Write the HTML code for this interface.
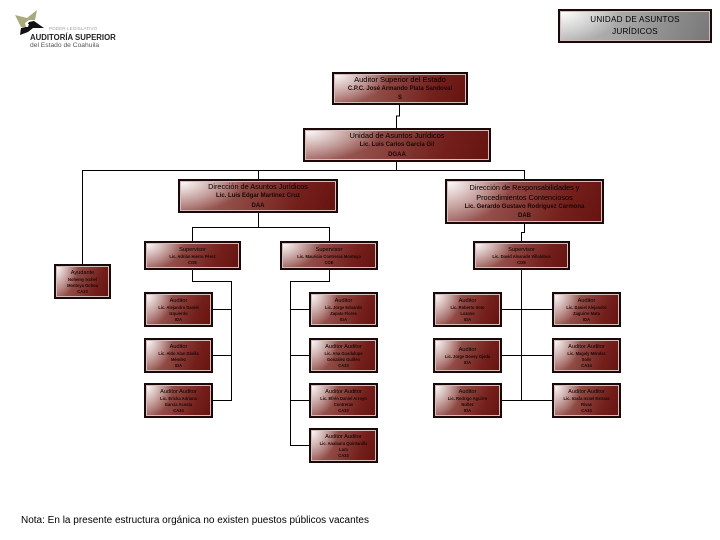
<!DOCTYPE html>
<html lang="es"><head><meta charset="utf-8"><title>Unidad de Asuntos Jurídicos</title>
<style>
html,body{margin:0;padding:0;background:#fff}
#p{position:relative;width:720px;height:540px;overflow:hidden;background:#fff;font-family:"Liberation Sans",sans-serif;color:#000}
svg{position:absolute;left:0;top:0}
.b{position:absolute;box-sizing:border-box;border:2px solid #1b0808;background:radial-gradient(ellipse 42% 105% at 0 0,rgba(255,255,255,1) 0%,rgba(255,255,255,.6) 40%,rgba(255,255,255,0) 100%),linear-gradient(112deg,#a8706c 0%,#8b423d 45%,#741f1b 75%,#661310 100%);box-shadow:inset 0 0 0 1px #d2bfbd;display:flex;flex-direction:column;align-items:center;justify-content:center;text-align:center;overflow:hidden}
.b div{white-space:nowrap}
.h{font-size:7.5px;line-height:10px;padding-top:1px}
.d .h{font-size:7.3px}
.s{font-size:6px;line-height:9.2px;font-weight:bold;color:#1a0505}
.a .h{font-size:5.6px;line-height:8px;padding-top:0}
.a .s{font-size:4.1px;line-height:6px;font-weight:bold}
.u{left:144px;width:69px;height:35px}
.c2{left:309px;width:69px;height:35px}
.c3{left:433px;width:69px;height:35px}
.c4{left:552px;width:69px;height:35px}
.t{position:absolute}
</style></head><body><div id="p">

<svg width="720" height="540" viewBox="0 0 720 540" shape-rendering="crispEdges" fill="none" stroke="#000" stroke-width="1">
<polyline points="399.5,105 399.5,116 396.5,116 396.5,128"/>
<polyline points="396.5,162 396.5,170"/>
<polyline points="82.5,264 82.5,170.5 524.5,170.5 524.5,179"/>
<polyline points="258.5,170 258.5,179"/>
<polyline points="258.5,213 258.5,227"/>
<polyline points="192.5,241 192.5,227.5 329.5,227.5 329.5,241"/>
<polyline points="192.5,270 192.5,281.5 231.5,281.5 231.5,400.5 213,400.5"/>
<polyline points="213,309.5 231,309.5"/>
<polyline points="213,355.5 231,355.5"/>
<polyline points="329.5,270 329.5,281.5 290.5,281.5 290.5,445.5 309,445.5"/>
<polyline points="290,309.5 309,309.5"/>
<polyline points="290,355.5 309,355.5"/>
<polyline points="290,400.5 309,400.5"/>
<polyline points="524.5,224 524.5,232.5 521.5,232.5 521.5,241"/>
<polyline points="521.5,270 521.5,400"/>
<polyline points="502,309.5 552,309.5"/>
<polyline points="502,355.5 552,355.5"/>
<polyline points="502,400.5 552,400.5"/>
</svg>

<svg width="130" height="60" viewBox="0 0 130 60" style="left:0;top:0">
<path d="M15 15 L27 18 L37 10 L35 20 L29 20 L25 23 L26 27 L21 27 Z" fill="#aaa97c"/>
<path d="M20 35 L21 28 L26 27 L29 22 L34 21 L44 28 L33 28 L28 32 Z" fill="#111"/>
<path d="M26 24 L29 24 L28 27 L26 27 Z" fill="#fff"/>
</svg>
<div class="t" style="left:49px;top:26px;font-size:4.7px;line-height:6px;color:#a5a59c;white-space:nowrap">PODER LEGISLATIVO</div>
<div class="t" style="left:30px;top:33px;font-size:7.8px;line-height:9px;font-weight:bold;color:#222;white-space:nowrap">AUDITORÍA SUPERIOR</div>
<div class="t" style="left:30px;top:41px;font-size:6.7px;line-height:9px;color:#555;white-space:nowrap">del Estado de Coahuila</div>

<div class="b" style="left:558px;top:9px;width:154px;height:34px;background:radial-gradient(ellipse 42% 105% at 0 0,rgba(255,255,255,1) 0%,rgba(255,255,255,.6) 40%,rgba(255,255,255,0) 100%),linear-gradient(112deg,#bdbdbd 0%,#a4a4a4 45%,#8a8a8a 75%,#777 100%)"><div style="font-size:8.1px;line-height:12.5px;letter-spacing:.25px">UNIDAD DE ASUNTOS</div><div style="font-size:8.1px;line-height:12.5px;letter-spacing:.25px">JURÍDICOS</div></div>

<div class="b" style="left:332px;top:72px;width:136px;height:33px"><div class="h">Auditor Superior del Estado</div><div class="s">C.P.C. José Armando Plata Sandoval</div><div class="s">S</div></div>
<div class="b" style="left:303px;top:128px;width:188px;height:34px"><div class="h">Unidad de Asuntos Jurídicos</div><div class="s">Lic. Luis Carlos García Gil</div><div class="s">DGAA</div></div>
<div class="b d" style="left:178px;top:179px;width:160px;height:34px"><div class="h">Dirección de Asuntos Jurídicos</div><div class="s">Lic. Luis Edgar Martínez Cruz</div><div class="s">DAA</div></div>
<div class="b d" style="left:445px;top:179px;width:159px;height:45px"><div class="h" style="line-height:10px">Dirección de Responsabilidades y</div><div class="h" style="line-height:10px;padding-top:0">Procedimientos Contenciosos</div><div class="s">Lic. Gerardo Gustavo Rodríguez Carmona</div><div class="s">DAB</div></div>

<div class="b a" style="left:144px;top:241px;width:97px;height:29px"><div class="h">Supervisor</div><div class="s">Lic. Adrián Hierro Pérez</div><div class="s">COE</div></div>
<div class="b a" style="left:280px;top:241px;width:98px;height:29px"><div class="h">Supervisor</div><div class="s">Lic. Mauricio Contreras Montoya</div><div class="s">COE</div></div>
<div class="b a" style="left:473px;top:241px;width:97px;height:29px"><div class="h">Supervisor</div><div class="s">Lic. David Alvarado Villalobos</div><div class="s">COE</div></div>
<div class="b a" style="left:54px;top:264px;width:57px;height:35px"><div class="h">Ayudante</div><div class="s">Nohemy Ixchel</div><div class="s">Montoya Ochoa</div><div class="s">CA33</div></div>

<div class="b a u" style="top:292px"><div class="h">Auditor</div><div class="s">Lic. Alejandro Daniel</div><div class="s">Izquierdo</div><div class="s">IDA</div></div>
<div class="b a u" style="top:338px"><div class="h">Auditor</div><div class="s">Lic. Aldo Alan Dávila</div><div class="s">Méndez</div><div class="s">IDA</div></div>
<div class="b a u" style="top:383px"><div class="h">Auditor Auditor</div><div class="s">Lic. Ericka Adriana</div><div class="s">García Acosta</div><div class="s">CA34</div></div>

<div class="b a c2" style="top:292px"><div class="h">Auditor</div><div class="s">Lic. Jorge Eduardo</div><div class="s">Zapata Flores</div><div class="s">IDA</div></div>
<div class="b a c2" style="top:338px"><div class="h">Auditor Auditor</div><div class="s">Lic. Ana Guadalupe</div><div class="s">González Guillén</div><div class="s">CA33</div></div>
<div class="b a c2" style="top:383px"><div class="h">Auditor Auditor</div><div class="s">Lic. Efrén Daniel Arroyo</div><div class="s">Contreras</div><div class="s">CA33</div></div>
<div class="b a c2" style="top:428px"><div class="h">Auditor Auditor</div><div class="s">Lic. Analaura Quintanilla</div><div class="s">Lara</div><div class="s">CA33</div></div>

<div class="b a c3" style="top:292px"><div class="h">Auditor</div><div class="s">Lic. Roberto Soto</div><div class="s">Lozano</div><div class="s">IDA</div></div>
<div class="b a c3" style="top:338px"><div class="h">Auditor</div><div class="s">Lic. Jorge Dovey Ojeda</div><div class="s">IDA</div></div>
<div class="b a c3" style="top:383px"><div class="h">Auditor</div><div class="s">Lic. Rodrigo Aguirre</div><div class="s">Núñez</div><div class="s">IDA</div></div>

<div class="b a c4" style="top:292px"><div class="h">Auditor</div><div class="s">Lic. Daniel Alejandro</div><div class="s">Zaguirre Mata</div><div class="s">IDA</div></div>
<div class="b a c4" style="top:338px"><div class="h">Auditor Auditor</div><div class="s">Lic. Magaly Méndez</div><div class="s">Solís</div><div class="s">CA34</div></div>
<div class="b a c4" style="top:383px"><div class="h">Auditor Auditor</div><div class="s">Lic. Iracla Israel Estrara</div><div class="s">Rivas</div><div class="s">CA34</div></div>

<div class="t" style="left:21px;top:515px;font-size:10px;line-height:12px;white-space:nowrap">Nota: En la presente estructura orgánica no existen puestos públicos vacantes</div>
</div></body></html>
